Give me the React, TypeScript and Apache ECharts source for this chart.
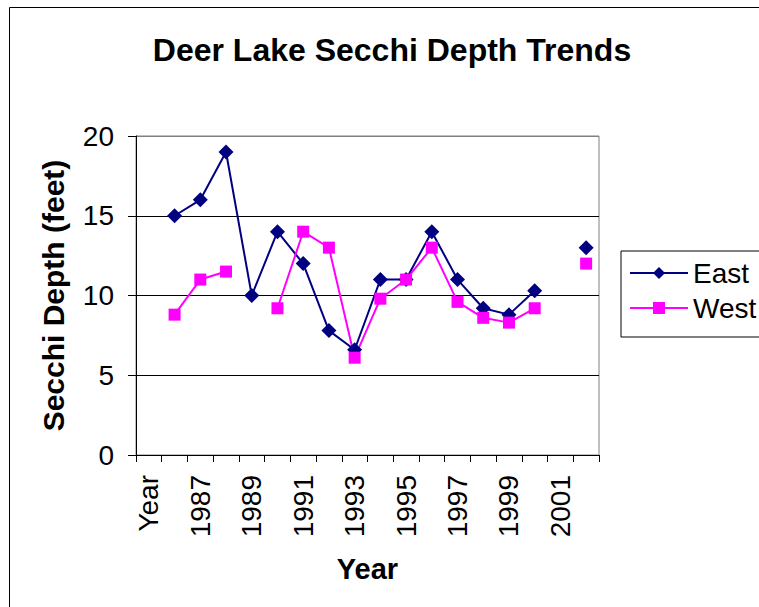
import React, { useEffect, useRef } from "react";
import * as echarts from "echarts";

const categories = ["Year", "1986", "1987", "1988", "1989", "1990", "1991", "1992", "1993", "1994", "1995", "1996", "1997", "1998", "1999", "2000", "2001", "2002"];
const eastValues: (number | null)[] = [null, 15, 16, 19, 10, 14, 12, 7.8, 6.6, 11, 11, 14, 11, 9.2, 8.8, 10.3, null, 13];
const westValues: (number | null)[] = [null, 8.8, 11, 11.5, null, 9.2, 14, 13, 6.1, 9.8, 11, 13, 9.6, 8.6, 8.3, 9.2, null, 12];
const yTicks = { min: 0, max: 20, interval: 5 };

const FONT = 'Arial, "Liberation Sans", sans-serif';

export default function App() {
  const ref = useRef<HTMLDivElement>(null);
  useEffect(() => {
    if (!ref.current) return;
    const chart = echarts.init(ref.current, undefined, { renderer: "svg" });
    chart.setOption({
      animation: false,
      backgroundColor: "#ffffff",
      title: {
        text: "Deer Lake Secchi Depth Trends",
        left: 387,
        top: 29,
        textAlign: "center",
        textStyle: { fontFamily: FONT, fontSize: 32, fontWeight: "bold", color: "#000" },
      },
      graphic: [
        {
          type: "rect",
          shape: { x: 9.5, y: 7.5, width: 800, height: 700 },
          style: { fill: "none", stroke: "#000", lineWidth: 1 },
          silent: true,
        },
      ],
      legend: {
        orient: "vertical",
        left: 621,
        top: 251,
        padding: [8, 12, 15, 8],
        itemGap: 7,
        itemWidth: 58,
        itemHeight: 15,
        borderColor: "#000",
        borderWidth: 1,
        textStyle: { fontFamily: FONT, fontSize: 28, color: "#000" },
        data: ["East", "West"],
      },
      grid: {
        left: 136,
        top: 136,
        width: 463,
        height: 319,
        show: true,
        borderColor: "#808080",
        borderWidth: 1,
        backgroundColor: "#fff",
      },
      xAxis: {
        type: "category",
        data: categories,
        boundaryGap: true,
        name: "Year",
        nameLocation: "middle",
        nameGap: 99,
        nameTextStyle: { fontFamily: FONT, fontSize: 29, fontWeight: "bold", color: "#000" },
        axisLine: { lineStyle: { color: "#000", width: 1 } },
        axisTick: { show: true, interval: 0, length: 7, lineStyle: { color: "#000" } },
        axisLabel: { interval: 1, rotate: 90, margin: 20, fontFamily: FONT, fontSize: 28, color: "#000" },
        splitLine: { show: false },
      },
      yAxis: {
        type: "value",
        min: yTicks.min,
        max: yTicks.max,
        interval: yTicks.interval,
        name: "Secchi Depth (feet)",
        nameLocation: "middle",
        nameGap: 68,
        nameTextStyle: { fontFamily: FONT, fontSize: 30, fontWeight: "bold", color: "#000" },
        axisLine: { show: true, lineStyle: { color: "#000", width: 1 } },
        axisTick: { show: true, length: 8, lineStyle: { color: "#000" } },
        axisLabel: { margin: 22, fontFamily: FONT, fontSize: 28, color: "#000" },
        splitLine: { show: true, lineStyle: { color: ["#000", "#000", "#000", "#000", "#808080"], width: 1 } },
      },
      series: [
        {
          name: "East",
          type: "line",
          data: eastValues,
          symbol: "diamond",
          symbolSize: 15,
          connectNulls: false,
          lineStyle: { color: "#000080", width: 2 },
          itemStyle: { color: "#000080" },
        },
        {
          name: "West",
          type: "line",
          data: westValues,
          symbol: "rect",
          symbolSize: 12,
          connectNulls: false,
          lineStyle: { color: "#FF00FF", width: 2 },
          itemStyle: { color: "#FF00FF" },
        },
      ],
    });
    return () => chart.dispose();
  }, []);
  return <div ref={ref} style={{ position: "fixed", left: 0, top: 0, width: 759, height: 607 }} />;
}
